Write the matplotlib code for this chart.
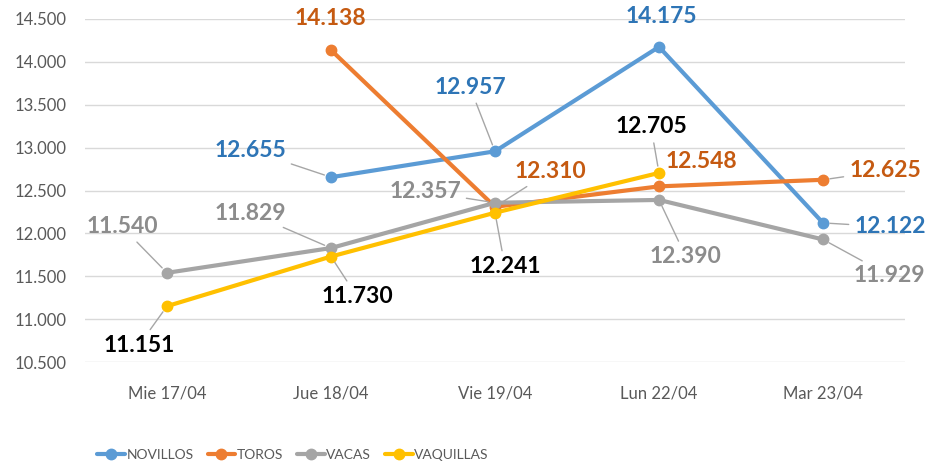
import matplotlib
matplotlib.use("Agg")
import matplotlib.pyplot as plt
import numpy as np

categories = ["Mie 17/04", "Jue 18/04", "Vie 19/04", "Lun 22/04", "Mar 23/04"]
novillos = [None, 12655, 12957, 14175, 12122]
toros = [None, 14138, 12310, 12548, 12625]
vacas = [11540, 11829, 12357, 12390, 11929]
vaquillas = [11151, 11730, 12241, 12705, None]
yticks = [10500, 11000, 11500, 12000, 12500, 13000, 13500, 14000, 14500]

series = [
    ("NOVILLOS", novillos, "#5B9BD5", "#2E75B6"),
    ("TOROS", toros, "#ED7D31", "#C55A11"),
    ("VACAS", vacas, "#A5A5A5", "#8C8C8C"),
    ("VAQUILLAS", vaquillas, "#FFC000", "#000000"),
]

# label offsets in pixels (dx, dy) and whether a leader line is drawn
offsets = {
    "NOVILLOS": [None, (-81, 27, True), (-25, 64, True), (2, 30, False), (67, -4, True)],
    "TOROS": [None, (-1, 32, False), (55, 35, True), (42, 25, False), (62, 9, True)],
    "VACAS": [(-45, 46, True), (-81, 35, True), (-70, 11, True), (27, -57, True), (66, -36, True)],
    "VAQUILLAS": [(-28, -39, True), (26, -40, True), (10, -54, True), (-8, 46, True)],
}

plt.rcParams['font.family'] = ['Lato', 'DejaVu Sans']

fig = plt.figure(figsize=(9.28, 4.65), dpi=100)
ax = fig.add_axes([85/928, 103/465, 820/928, 343/465])

x = np.arange(len(categories))
for name, vals, color, lcolor in series:
    xs = [i for i, v in enumerate(vals) if v is not None]
    ys = [v for v in vals if v is not None]
    ax.plot(xs, ys, color=color, lw=3, marker='o', markersize=7.5, label=name,
            solid_capstyle='round', zorder=3)

def fmt(v):
    return f"{v:,.0f}".replace(",", ".")

for name, vals, color, lcolor in series:
    offs = offsets[name]
    for i, v in enumerate(vals):
        if v is None:
            continue
        dx, dy, leader = offs[i]
        ap = None
        if leader:
            ap = dict(arrowstyle='-', color='#A6A6A6', lw=1, shrinkA=2, shrinkB=5)
        ax.annotate(fmt(v), xy=(i, v), xytext=(dx, dy), textcoords='offset pixels',
                    ha='center', va='center', fontsize=16.5, fontweight='bold',
                    color=lcolor, arrowprops=ap, zorder=4)

ax.set_xlim(-0.5, len(categories) - 0.5)
ax.set_ylim(yticks[0], yticks[-1])
ax.set_yticks(yticks)
ax.set_yticklabels([fmt(t) for t in yticks])
ax.set_xticks(x)
ax.set_xticklabels(categories)
ax.tick_params(axis='both', length=0, labelsize=12, colors='#595959')
ax.tick_params(axis='y', pad=13)
ax.tick_params(axis='x', pad=17)
ax.grid(axis='y', color='#D9D9D9', lw=1)
ax.set_axisbelow(True)
for s in ax.spines.values():
    s.set_visible(False)

leg = fig.legend(loc='center', bbox_to_anchor=(293/928, 1 - 455/465), ncol=4, frameon=False,
                 fontsize=10, handlelength=2.0, columnspacing=1.0, handletextpad=0.1,
                 labelcolor='#595959')

fig.savefig("out.png", dpi=100)
